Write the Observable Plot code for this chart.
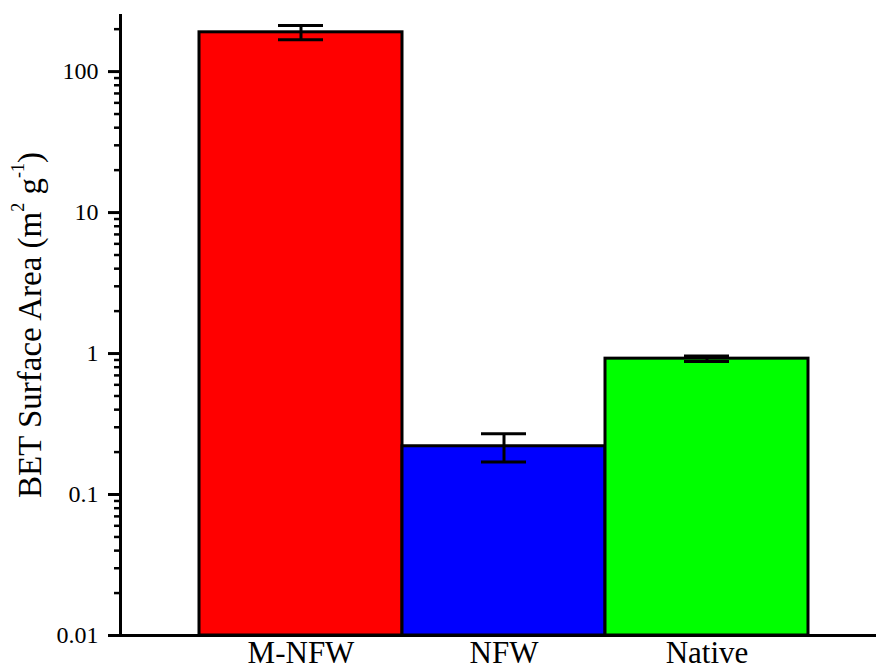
<!DOCTYPE html>
<html>
<head>
<meta charset="utf-8">
<script src="https://cdn.jsdelivr.net/npm/d3@7"></script>
<script src="https://cdn.jsdelivr.net/npm/@observablehq/plot@0.6"></script>
<style>
  body { margin: 0; background: #fff; font-family: "Liberation Serif", serif; }
</style>
</head>
<body>
<div id="chart"></div>
<script>
// BET surface area of the three wood samples (m² g⁻¹), mean ± error
const samples = ["M-NFW", "NFW", "Native"];
const surfaceArea = [190, 0.22, 0.92];
const surfaceAreaErr = [22, 0.05, 0.04];
const barColors = ["#ff0000", "#0000ff", "#00ff00"];

// Log axis ticks
const majorTicks = [0.01, 0.1, 1, 10, 100];
const majorTickLabels = ["0.01", "0.1", "1", "10", "100"];
const minorMultiples = [2, 3, 4, 5, 6, 7, 8, 9];
const yDomain = [0.01, 250];

const minorTicks = majorTicks.flatMap(d => minorMultiples.map(m => +(d * m).toPrecision(6)))
  .filter(v => v <= yDomain[1]);

const rows = samples.map((s, i) => ({
  sample: s,
  value: surfaceArea[i],
  lo: surfaceArea[i] - surfaceAreaErr[i],
  hi: surfaceArea[i] + surfaceAreaErr[i]
}));

const FONT = "Liberation Serif";

const chart = Plot.plot({
  width: 876,
  height: 669,
  marginLeft: 120,
  marginRight: 0,
  marginTop: 15,
  marginBottom: 34,
  style: { background: "#fff", color: "#000" },
  x: { type: "band", domain: samples, paddingInner: 0, paddingOuter: 0.353, align: 0.535, label: null },
  y: { type: "log", domain: yDomain, label: null },
  color: { domain: samples, range: barColors },
  marks: [
    Plot.barY(rows, { x: "sample", y1: yDomain[0], y2: "value", fill: "sample", stroke: "#000", strokeWidth: 3 }),
    Plot.ruleX(rows, { x: "sample", y1: "lo", y2: "hi", stroke: "#000", strokeWidth: 3 }),
    Plot.tickY(rows, { x: "sample", y: "lo", insetLeft: 79, insetRight: 79, stroke: "#000", strokeWidth: 3 }),
    Plot.tickY(rows, { x: "sample", y: "hi", insetLeft: 79, insetRight: 79, stroke: "#000", strokeWidth: 3 }),
    Plot.axisY(minorTicks, { tickSize: 6, tickFormat: () => "", strokeWidth: 2.5, label: null }),
    Plot.axisY(majorTicks, {
      tickSize: 12, tickPadding: 10, strokeWidth: 3, fontSize: 24, fontFamily: FONT, label: null,
      tickFormat: d => majorTickLabels[majorTicks.indexOf(d)]
    }),
    Plot.axisX({ tickSize: 0, tickPadding: 5, fontSize: 31, fontFamily: FONT, label: null }),
    Plot.frame({ anchor: "left", stroke: "#000", strokeWidth: 3 }),
    Plot.frame({ anchor: "bottom", stroke: "#000", strokeWidth: 3 })
  ]
});
chart.setAttribute("font-family", FONT);

// Y-axis title with superscript units
const title = d3.select(chart).append("text")
  .attr("transform", "translate(41,325) rotate(-90)")
  .attr("text-anchor", "middle")
  .attr("fill", "#000")
  .attr("font-family", FONT)
  .attr("font-size", 33);
title.append("tspan").text("BET Surface Area (m");
title.append("tspan").attr("dy", -17).attr("font-size", 18).text("2");
title.append("tspan").attr("dy", 17).text(" g");
title.append("tspan").attr("dy", -17).attr("font-size", 18).text("-1");
title.append("tspan").attr("dy", 17).text(")");

document.getElementById("chart").appendChild(chart);
</script>
</body>
</html>
